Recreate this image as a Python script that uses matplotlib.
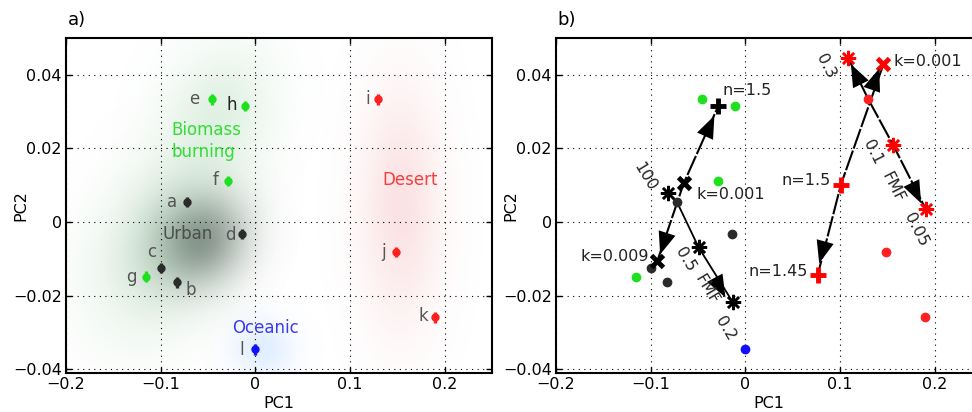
import numpy as np
import matplotlib
matplotlib.use("Agg")
import matplotlib.pyplot as plt

plt.rcParams['font.family'] = ['DejaVu Sans']
plt.rcParams['axes.unicode_minus'] = True

# measured aerosol sites (PC1, PC2)
site_names = ['a', 'b', 'c', 'd', 'e', 'f', 'g', 'h', 'i', 'j', 'k', 'l']
site_pc1 = [-0.0723, -0.0828, -0.100, -0.014, -0.0456, -0.029, -0.1158, -0.0109, 0.1298, 0.1484, 0.190, 0.0]
site_pc2 = [0.0055, -0.0164, -0.0125, -0.0033, 0.0333, 0.0111, -0.0148, 0.0316, 0.0333, -0.0082, -0.0259, -0.0346]
site_type = ['urban', 'urban', 'urban', 'urban', 'biomass', 'biomass', 'biomass', 'biomass',
             'desert', 'desert', 'desert', 'oceanic']
site_err = 0.0014
label_pc1 = [-0.0881, -0.0687, -0.1098, -0.0263, -0.0642, -0.0421, -0.1308, -0.0249, 0.119, 0.1358, 0.1779, -0.014]
label_pc2 = [0.0055, -0.0184, -0.0082, -0.0035, 0.0333, 0.0113, -0.015, 0.0319, 0.0333, -0.0082, -0.0256, -0.0348]

type_colors = {'urban': '#2b2b2b', 'biomass': '#1fe01f', 'desert': '#ff2020', 'oceanic': '#1010ff'}

# cluster clouds: centre, spread, correlation, colour, peak opacity
cloud_x = [-0.095, -0.040, -0.058, 0.153, 0.008]
cloud_y = [-0.006, 0.030, -0.005, 0.004, -0.0346]
cloud_sx = [0.050, 0.040, 0.033, 0.030, 0.022]
cloud_sy = [0.016, 0.013, 0.0085, 0.022, 0.0055]
cloud_rho = [0.3, 0.2, 0.1, 0.0, 0.0]
cloud_rgb = [(0.45, 0.72, 0.50), (0.50, 0.78, 0.55), (0.30, 0.36, 0.33), (0.95, 0.60, 0.62), (0.60, 0.78, 1.0)]
cloud_alpha = [0.30, 0.22, 0.60, 0.28, 0.30]

group_names = ['Biomass\nburning', 'Urban', 'Desert', 'Oceanic']
group_x = [-0.0887, -0.0979, 0.134, -0.025]
group_y = [0.0220, -0.0033, 0.0114, -0.0289]
group_colors = ['#33dd33', '#4a4f4c', '#f04040', '#3a3aee']

# model curves, panel b
blk_fmf_x = [-0.082, -0.0723, -0.0493, -0.0134]
blk_fmf_y = [0.0079, 0.0055, -0.0069, -0.0217]
blk_kn_x = [-0.0931, -0.065, -0.0288]
blk_kn_y = [-0.0107, 0.0106, 0.0314]
red_fmf_x = [0.1087, 0.130, 0.156, 0.1906]
red_fmf_y = [0.0445, 0.0333, 0.021, 0.0035]
red_kn_x = [0.1459, 0.101, 0.0763]
red_kn_y = [0.0429, 0.0102, -0.0145]

# arrow tips and the point they come from
arrow_tip_x = [-0.0327, -0.090, -0.021, 0.1115, 0.1414, 0.1857, 0.078]
arrow_tip_y = [0.0289, -0.0088, -0.0205, 0.0429, 0.0417, 0.0051, -0.0112]
arrow_from_x = [-0.065, -0.072, -0.0493, 0.130, 0.130, 0.156, 0.101]
arrow_from_y = [0.0106, 0.0055, -0.0069, 0.0333, 0.0333, 0.021, 0.0102]

# rotated FMF labels
fmf_text = ['100', '0.5', 'FMF', '0.2', '0.3', '0.1', 'FMF', '0.05']
fmf_x = [-0.1058, -0.0636, -0.0413, -0.0211, 0.0851, 0.1343, 0.1554, 0.180]
fmf_y = [0.0122, -0.0101, -0.0182, -0.0288, 0.0424, 0.019, 0.0095, -0.0022]
fmf_rot = [-59, -59, -59, -59, -63, -63, -63, -63]

kn_text = ['n=1.5', 'k=0.001', 'k=0.009', 'k=0.001', 'n=1.5', 'n=1.45']
kn_x = [-0.0246, -0.0514, -0.102, 0.1565, 0.0904, 0.0657]
kn_y = [0.0357, 0.0075, -0.0094, 0.0435, 0.01135, -0.0134]
kn_ha = ['left', 'left', 'right', 'left', 'right', 'right']

xlim = (-0.2, 0.25)
ylim = (-0.041, 0.05)


def style_axes(ax, tag):
    ax.set_xlim(*xlim)
    ax.set_ylim(*ylim)
    ax.set_xticks([-0.2, -0.1, 0, 0.1, 0.2])
    ax.set_yticks([-0.04, -0.02, 0, 0.02, 0.04])
    ax.set_xticklabels(['\u22120.2', '\u22120.1', '0', '0.1', '0.2'])
    ax.set_yticklabels(['\u22120.04', '\u22120.02', '0', '0.02', '0.04'])
    ax.grid(True, color='black', linestyle=(0, (1, 4)), linewidth=0.8)
    ax.tick_params(direction='in', top=True, right=True, labelsize=11.5, length=4, width=1, pad=3)
    for s in ax.spines.values():
        s.set_linewidth(1.5)
    ax.set_xlabel('PC1', fontsize=11.5, va='center')
    ax.set_ylabel('PC2', fontsize=11.5, va='center')
    ax.xaxis.set_label_coords(0.5, -0.09)
    ax.yaxis.set_label_coords(-0.106, 0.5)
    ax.text(0.004, 1.054, tag, transform=ax.transAxes, fontsize=13, ha='left', va='center')


fig = plt.figure(figsize=(9.72, 4.12), dpi=100)
ax1 = fig.add_axes([66 / 972, 1 - 373 / 412, 426 / 972, 335 / 412])
ax2 = fig.add_axes([556 / 972, 1 - 373 / 412, 426 / 972, 335 / 412])

# ---- panel a
gx = np.linspace(xlim[0], xlim[1], 450)
gy = np.linspace(ylim[0], ylim[1], 350)
GX, GY = np.meshgrid(gx, gy)
for cx, cy, sx, sy, rho, rgb, amax in zip(cloud_x, cloud_y, cloud_sx, cloud_sy,
                                          cloud_rho, cloud_rgb, cloud_alpha):
    u = (GX - cx) / sx
    v = (GY - cy) / sy
    q = (u * u - 2 * rho * u * v + v * v) / (1 - rho * rho)
    img = np.zeros(GX.shape + (4,))
    img[..., :3] = rgb
    img[..., 3] = amax * np.exp(-0.5 * q)
    ax1.imshow(img, extent=(xlim[0], xlim[1], ylim[0], ylim[1]), origin='lower',
               aspect='auto', interpolation='bilinear', zorder=0)

for x, y, t in zip(site_pc1, site_pc2, site_type):
    ax1.errorbar(x, y, yerr=site_err, fmt='o', ms=5, color=type_colors[t],
                 elinewidth=2.4, capsize=0, zorder=3)
for x, y, n in zip(label_pc1, label_pc2, site_names):
    ax1.text(x, y, n, fontsize=12, color='#222222' if n == 'h' else '#555555',
             ha='center', va='center', zorder=4)
for x, y, n, c in zip(group_x, group_y, group_names, group_colors):
    ax1.text(x, y, n, fontsize=12, color=c, ha='left', va='center', linespacing=1.25, zorder=4)
style_axes(ax1, 'a)')

# ---- panel b
for x, y, t in zip(site_pc1, site_pc2, site_type):
    ax2.plot(x, y, 'o', ms=6, color=type_colors[t], zorder=3)

ax2.plot(blk_fmf_x, blk_fmf_y, '-', color='black', lw=1.3, zorder=2)
ax2.plot(blk_kn_x, blk_kn_y, color='black', lw=1.5, dashes=(10, 1), zorder=2)
ax2.plot(red_fmf_x, red_fmf_y, color='black', lw=1.5, dashes=(10, 1), zorder=2)
ax2.plot(red_kn_x, red_kn_y, color='black', lw=1.5, dashes=(10, 1), zorder=2)

ast = (8, 2, 0)
ax2.plot(blk_fmf_x[0], blk_fmf_y[0], marker=ast, ms=11, mew=1.8, color='black', ls='none', zorder=4)
ax2.plot(blk_fmf_x[2:], blk_fmf_y[2:], marker=ast, ms=11, mew=1.8, color='black', ls='none', zorder=4)
ax2.plot(blk_kn_x[:2], blk_kn_y[:2], 'x', ms=9, mew=3.5, color='black', zorder=4)
ax2.plot(blk_kn_x[2], blk_kn_y[2], '+', ms=11, mew=3.5, color='black', zorder=4)
ax2.plot(red_fmf_x[0], red_fmf_y[0], marker=ast, ms=11, mew=1.8, color='red', ls='none', zorder=4)
ax2.plot(red_fmf_x[2:], red_fmf_y[2:], marker=ast, ms=11, mew=1.8, color='red', ls='none', zorder=4)
ax2.plot(red_kn_x[0], red_kn_y[0], 'x', ms=9, mew=3.5, color='red', zorder=4)
ax2.plot(red_kn_x[1:], red_kn_y[1:], '+', ms=11, mew=3.5, color='red', zorder=4)

for tx, ty, fx, fy in zip(arrow_tip_x, arrow_tip_y, arrow_from_x, arrow_from_y):
    ax2.annotate('', xy=(tx, ty), xytext=(fx, fy),
                 arrowprops=dict(arrowstyle='-|>,head_length=0.9,head_width=0.35',
                                 color='black', lw=0, shrinkA=0, shrinkB=0,
                                 mutation_scale=18), zorder=5)

for t, x, y, r in zip(fmf_text, fmf_x, fmf_y, fmf_rot):
    ax2.text(x, y, t, rotation=r, fontsize=11.5, color='#222222', ha='center', va='center',
             rotation_mode='anchor', zorder=5)
for t, x, y, ha in zip(kn_text, kn_x, kn_y, kn_ha):
    ax2.text(x, y, t, fontsize=11.5, color='#222222', ha=ha, va='center', zorder=5)
style_axes(ax2, 'b)')

fig.savefig('out.png', dpi=100)
